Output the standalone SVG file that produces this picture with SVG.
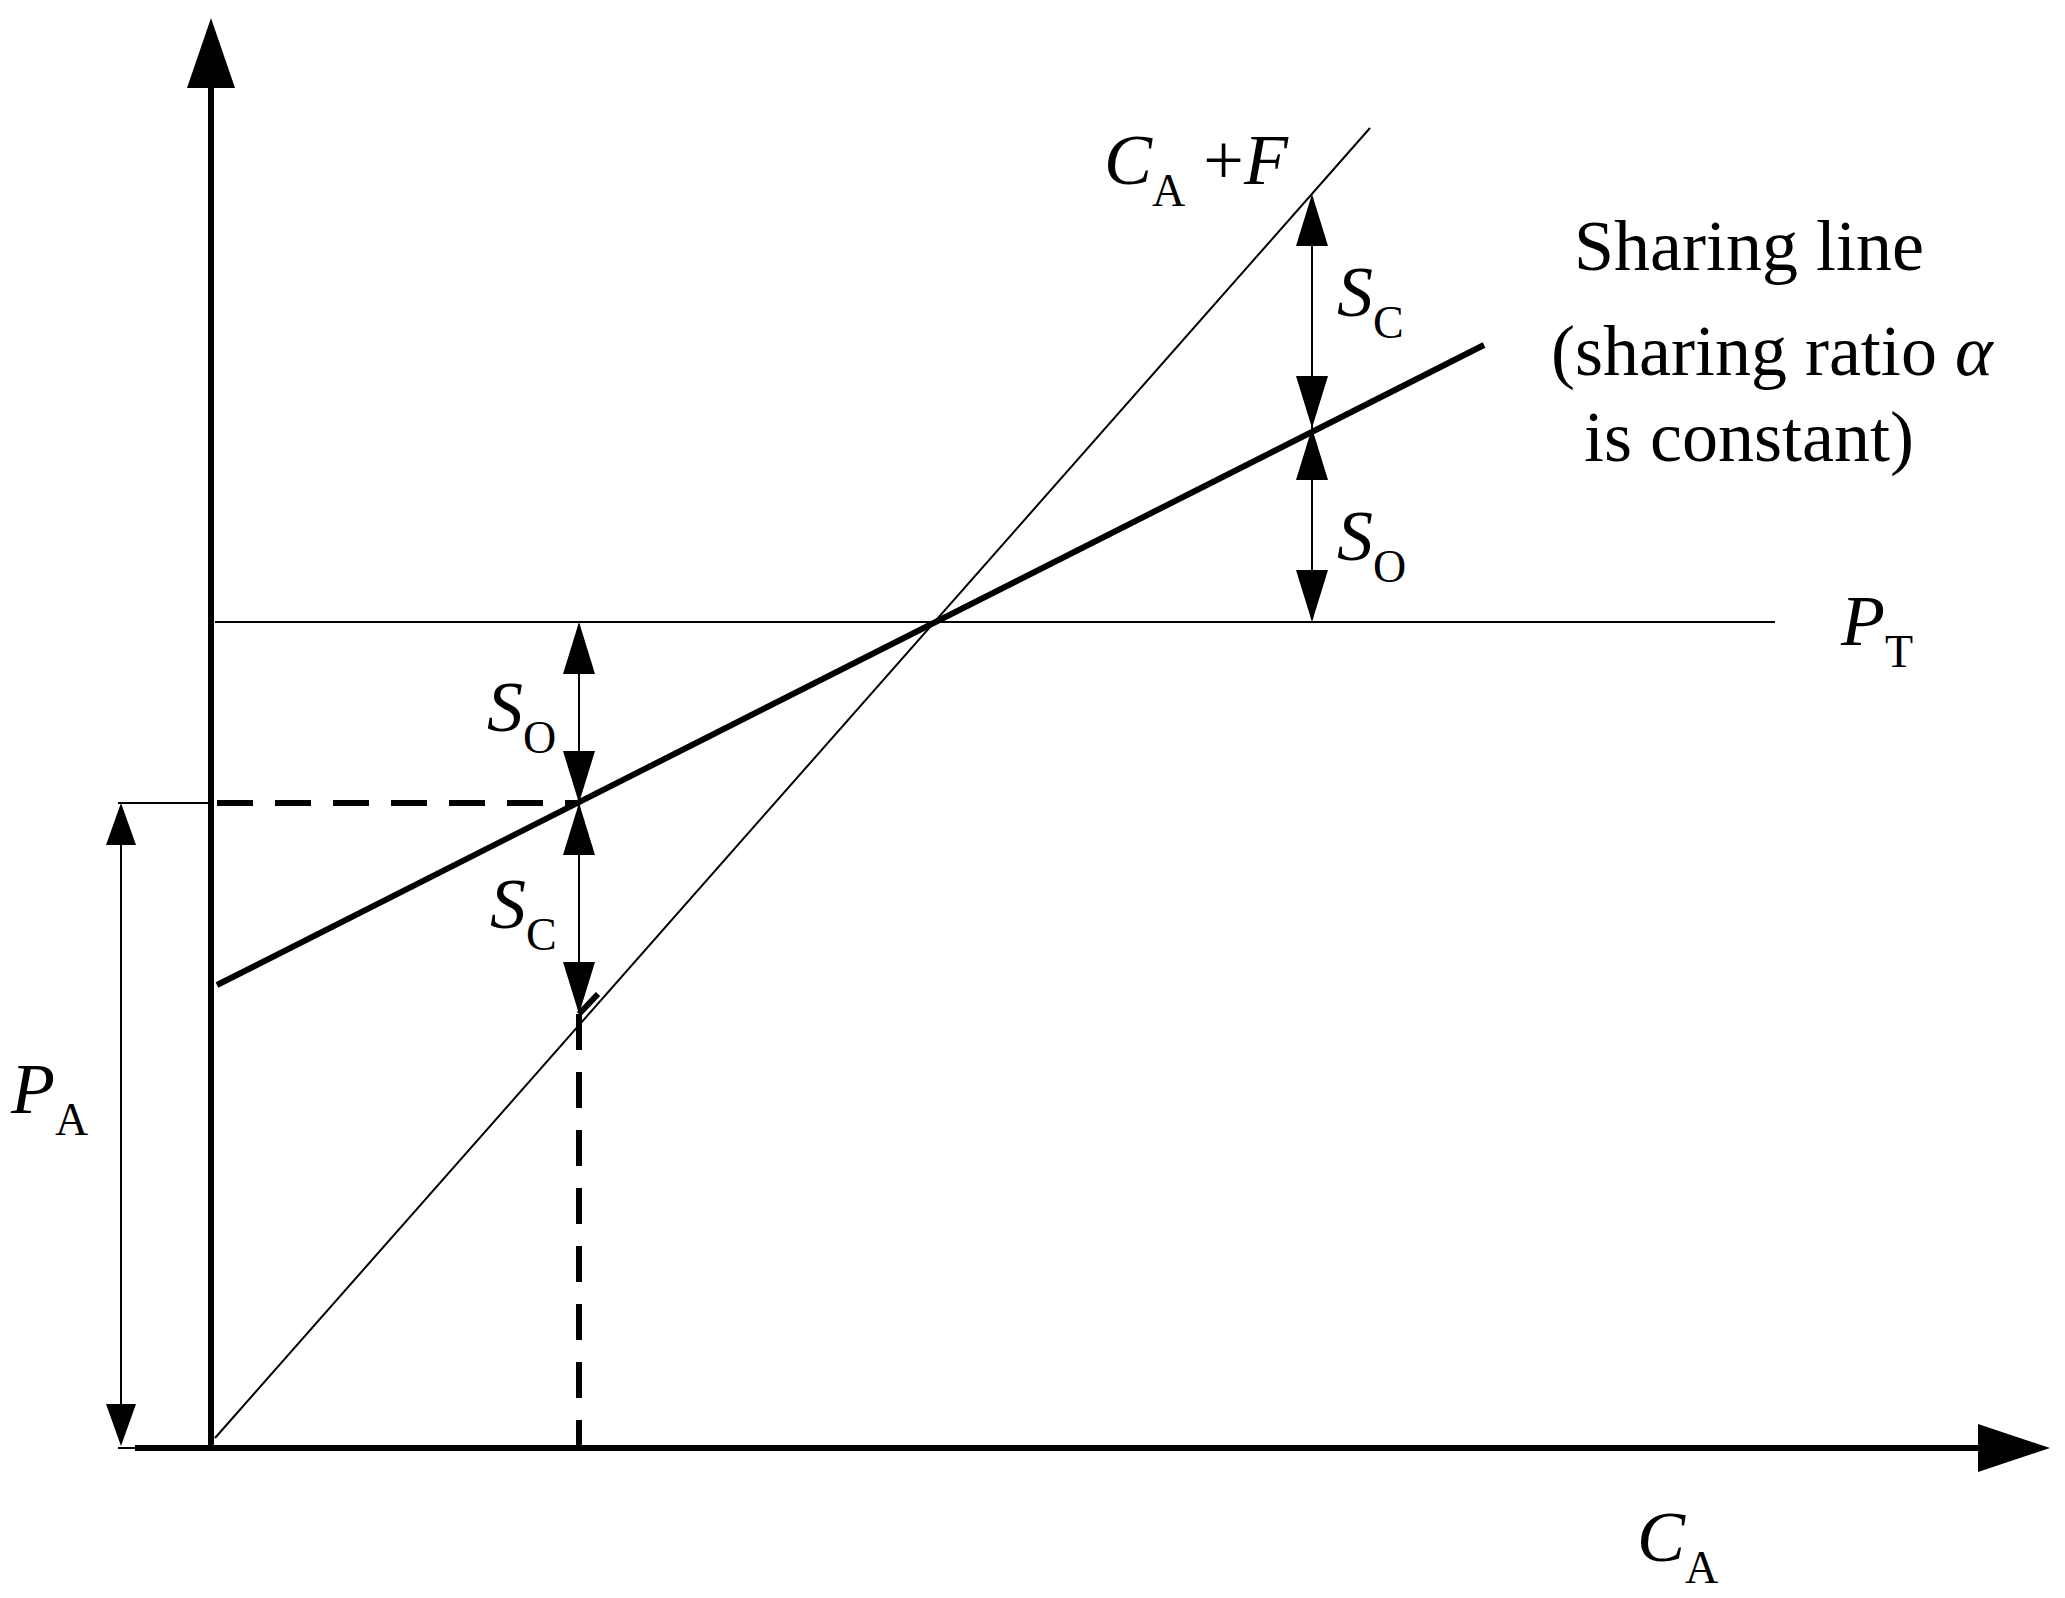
<svg xmlns="http://www.w3.org/2000/svg" width="2065" height="1598" viewBox="0 0 2065 1598">
<style>
.t{font-family:"Liberation Serif",serif;font-size:72px;fill:#000}
.s{font-size:46px;font-style:normal}
.i{font-style:italic}
.thin{stroke:#000;stroke-width:2;fill:none}
.thick{stroke:#000;stroke-width:6;fill:none}
.dash{stroke:#000;stroke-width:6;fill:none;stroke-dasharray:36 22}
</style>
<rect width="2065" height="1598" fill="#fff"/>
<g id="connectors">
<line class="thick" x1="211" y1="1450" x2="211" y2="80"/>
<polygon points="211,18 187,88 235,88"/>
<line class="thick" x1="135" y1="1448" x2="1990" y2="1448"/>
<polygon points="2050,1448 1978,1424 1978,1472"/>
<line class="thin" x1="215" y1="622" x2="1775" y2="622"/>
<line class="thin" x1="215" y1="1438" x2="1370" y2="128"/>
<line class="thick" x1="217" y1="985" x2="1484" y2="345"/>
<line class="dash" x1="217" y1="803" x2="579" y2="803"/>
<line class="dash" x1="579" y1="1014" x2="579" y2="1446"/>
<line class="thick" x1="579" y1="1014" x2="598" y2="994"/>
<line class="thin" x1="118" y1="803" x2="211" y2="803"/>
<line class="thin" x1="118" y1="1448" x2="135" y2="1448"/>
<line class="thin" x1="121" y1="840" x2="121" y2="1410"/>
<polygon points="121,803 106,845 136,845"/>
<polygon points="121,1446 106,1404 136,1404"/>
<line class="thin" x1="1312" y1="230" x2="1312" y2="590"/>
<polygon points="1312,194 1296,246 1328,246"/>
<polygon points="1312,428 1296,376 1328,376"/>
<polygon points="1312,428 1296,480 1328,480"/>
<polygon points="1312,622 1296,570 1328,570"/>
<line class="thin" x1="579" y1="655" x2="579" y2="985"/>
<polygon points="579,622 563,674 595,674"/>
<polygon points="579,803 563,751 595,751"/>
<polygon points="579,803 563,855 595,855"/>
<polygon points="579,1014 563,962 595,962"/>
</g>
<g id="labels">
<text class="t" x="1104" y="184"><tspan class="i">C</tspan><tspan class="s" dy="22">A</tspan><tspan dy="-22"> +</tspan><tspan class="i">F</tspan></text>
<text class="t" x="1574" y="270">Sharing line</text>
<text class="t" x="1551" y="375">(sharing ratio <tspan class="i">α</tspan></text>
<text class="t" x="1584" y="461">is constant)</text>
<text class="t" x="1337" y="316"><tspan class="i">S</tspan><tspan class="s" dy="22">C</tspan></text>
<text class="t" x="1337" y="560"><tspan class="i">S</tspan><tspan class="s" dy="22">O</tspan></text>
<text class="t" x="1841" y="645"><tspan class="i">P</tspan><tspan class="s" dy="22">T</tspan></text>
<text class="t" x="487" y="731"><tspan class="i">S</tspan><tspan class="s" dy="22">O</tspan></text>
<text class="t" x="490" y="928"><tspan class="i">S</tspan><tspan class="s" dy="22">C</tspan></text>
<text class="t" x="11" y="1113"><tspan class="i">P</tspan><tspan class="s" dy="22">A</tspan></text>
<text class="t" x="1637" y="1561"><tspan class="i">C</tspan><tspan class="s" dy="22">A</tspan></text>
</g>
</svg>
